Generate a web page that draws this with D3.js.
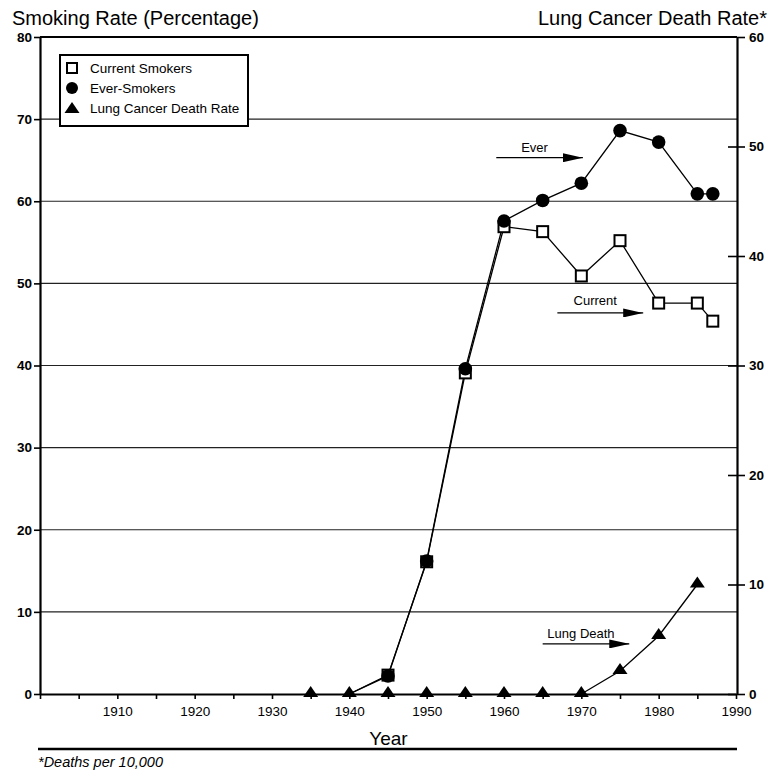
<!DOCTYPE html>
<html lang="en">
<head>
<meta charset="UTF-8">
<title>Smoking Rate and Lung Cancer Death Rate</title>
<style>
    body { margin: 0; padding: 0; background: #fff; }
    svg { display: block; font-family: "Liberation Sans", Arial, Helvetica, sans-serif; }
    .axis text { font-size: 13.5px; fill: #000; }
    .axis path, .axis line { stroke: #000; }
</style>
</head>
<body>
<svg id="chart" width="771" height="773"></svg>

<script src="https://d3js.org/d3.v7.min.js"></script>
<script>
// Data
const smokeYears = [1940, 1945, 1950, 1955, 1960, 1965, 1970, 1975, 1980, 1985, 1987];
const currentSmokers = [0, 2.3, 16.1, 39.1, 56.9, 56.3, 50.9, 55.2, 47.6, 47.6, 45.4];
const everSmokers = [0, 2.2, 16.2, 39.6, 57.6, 60.1, 62.2, 68.6, 67.2, 60.9, 60.9];

const deathYears = [1935, 1940, 1945, 1950, 1955, 1960, 1965, 1970, 1975, 1980, 1985];
const deathRate = [0, 0, 0, 0, 0, 0, 0, 0, 2.1, 5.3, 10.0];

const leftTicks = [0, 10, 20, 30, 40, 50, 60, 70, 80];
const rightTicks = [0, 10, 20, 30, 40, 50, 60];
const yearTicks = d3.range(1900, 1991, 5);
const yearLabels = [1910, 1920, 1930, 1940, 1950, 1960, 1970, 1980, 1990];

const legendLabels = ["Current Smokers", "Ever-Smokers", "Lung Cancer Death Rate"];

const svg = d3.select("#chart");

const x = d3.scaleLinear().domain([1900, 1990]).range([40, 736]);
const y = d3.scaleLinear().domain([0, 80]).range([694, 37]);
const y2 = d3.scaleLinear().domain([0, 60]).range([694, 37]);
const rightX = 737;

const current = smokeYears.map((yr, i) => ({ year: yr, v: currentSmokers[i] }));
const ever = smokeYears.map((yr, i) => ({ year: yr, v: everSmokers[i] }));
const deaths = deathYears.map((yr, i) => ({ year: yr, v: deathRate[i] }));

// gridlines
svg.append("g")
    .selectAll("line")
    .data(leftTicks.filter(d => d > 0 && d < 80))
    .enter().append("line")
    .attr("x1", x(1900)).attr("x2", rightX)
    .attr("y1", d => y(d)).attr("y2", d => y(d))
    .attr("stroke", "#222").attr("stroke-width", 1.1);

// top frame line
svg.append("line")
    .attr("x1", x(1900)).attr("x2", rightX)
    .attr("y1", y(80)).attr("y2", y(80))
    .attr("stroke", "#000").attr("stroke-width", 2);

// left axis
const gl = svg.append("g").attr("class", "axis")
    .attr("transform", `translate(${x(1900)},0)`)
    .call(d3.axisLeft(y).tickValues(leftTicks).tickSize(6).tickSizeOuter(0).tickPadding(2));
gl.select(".domain").attr("stroke-width", 2.2);
gl.selectAll(".tick line").attr("stroke-width", 1.6);
gl.selectAll("text").attr("font-weight", "bold").style("font-size", "13.5px");

// right axis
const gr = svg.append("g").attr("class", "axis")
    .attr("transform", `translate(${rightX},0)`)
    .call(d3.axisRight(y2).tickValues(rightTicks).tickSize(8).tickSizeOuter(0).tickPadding(4));
gr.select(".domain").attr("stroke-width", 2.2);
gr.selectAll(".tick line").attr("x1", d => d === 60 ? 0 : -9).attr("stroke-width", 1.6);
gr.selectAll("text").attr("font-weight", "bold").style("font-size", "13.5px");

// bottom axis
const gb = svg.append("g").attr("class", "axis")
    .attr("transform", `translate(0,${y(0)})`)
    .call(d3.axisBottom(x).tickValues(yearTicks).tickSize(5).tickSizeOuter(0).tickPadding(7)
        .tickFormat(d => yearLabels.includes(d) ? d : ""));
gb.select(".domain").attr("stroke-width", 2.2);
gb.selectAll(".tick line").attr("stroke-width", 1.6);
gb.selectAll("text").style("font-size", "13.5px");

// series lines
const line = d3.line().x(d => x(d.year)).y(d => y(d.v));
const line2 = d3.line().x(d => x(d.year)).y(d => y2(d.v));

svg.append("path").datum(current).attr("d", line)
    .attr("fill", "none").attr("stroke", "#000").attr("stroke-width", 1.3);
svg.append("path").datum(ever).attr("d", line)
    .attr("fill", "none").attr("stroke", "#000").attr("stroke-width", 1.3);
svg.append("path").datum(deaths.filter(d => d.year >= 1970)).attr("d", line2)
    .attr("fill", "none").attr("stroke", "#000").attr("stroke-width", 1.3);

// markers
const tri = "M0,-8L7.5,3L-7.5,3Z";

svg.append("g").selectAll("rect")
    .data(current.filter(d => d.v > 0))
    .enter().append("rect")
    .attr("x", d => x(d.year) - 5.5).attr("y", d => y(d.v) - 5.5)
    .attr("width", 11).attr("height", 11)
    .attr("fill", "#fff").attr("stroke", "#000").attr("stroke-width", 2);

svg.append("g").selectAll("circle")
    .data(ever.filter(d => d.v > 0))
    .enter().append("circle")
    .attr("cx", d => x(d.year)).attr("cy", d => y(d.v))
    .attr("r", 6.8).attr("fill", "#000");

svg.append("g").selectAll("path")
    .data(deaths)
    .enter().append("path")
    .attr("d", tri)
    .attr("transform", d => `translate(${x(d.year)},${y2(d.v)})`)
    .attr("fill", "#000");

// arrow annotations
svg.append("defs").append("marker")
    .attr("id", "arrow").attr("viewBox", "0 0 20 9")
    .attr("refX", 20).attr("refY", 4.5)
    .attr("markerWidth", 20).attr("markerHeight", 9)
    .attr("markerUnits", "userSpaceOnUse")
    .attr("orient", "auto")
    .append("path").attr("d", "M0,0L20,4.5L0,9Z").attr("fill", "#000");

const notes = [
    { text: "Ever", x1: 1959, x2: 1970.2, v: 65.3, tv: 66.0 },
    { text: "Current", x1: 1966.9, x2: 1978.0, v: 46.4, tv: 47.4 },
    { text: "Lung Death", x1: 1965.0, x2: 1976.2, v: 6.1, tv: 6.8 }
];
notes.forEach(n => {
    svg.append("line")
        .attr("x1", x(n.x1)).attr("x2", x(n.x2))
        .attr("y1", y(n.v)).attr("y2", y(n.v))
        .attr("stroke", "#000").attr("stroke-width", 1.3)
        .attr("marker-end", "url(#arrow)");
    svg.append("text")
        .attr("x", (x(n.x1) + x(n.x2)) / 2 - 5).attr("y", y(n.tv))
        .attr("text-anchor", "middle")
        .style("font-size", "13px")
        .text(n.text);
});

// legend
const legend = svg.append("g").attr("transform", "translate(60,55)");
legend.append("rect")
    .attr("width", 188).attr("height", 71)
    .attr("fill", "#fff").attr("stroke", "#000").attr("stroke-width", 2);
legendLabels.forEach((lbl, i) => {
    const cy = 13 + i * 20;
    if (i === 0) {
        legend.append("rect").attr("x", 7).attr("y", cy - 5)
            .attr("width", 10).attr("height", 10)
            .attr("fill", "#fff").attr("stroke", "#000").attr("stroke-width", 2);
    } else if (i === 1) {
        legend.append("circle").attr("cx", 12).attr("cy", cy).attr("r", 6).attr("fill", "#000");
    } else {
        legend.append("path").attr("d", tri).attr("transform", `translate(12,${cy + 2})`).attr("fill", "#000");
    }
    legend.append("text").attr("x", 30).attr("y", cy + 4.5)
        .style("font-size", "13.5px").text(lbl);
});

// titles
svg.append("text").attr("x", 12).attr("y", 25)
    .style("font-size", "20px").text("Smoking Rate (Percentage)");
svg.append("text").attr("x", 767).attr("y", 25).attr("text-anchor", "end")
    .style("font-size", "20px").text("Lung Cancer Death Rate*");
svg.append("text").attr("x", (x(1900) + rightX) / 2).attr("y", 745).attr("text-anchor", "middle")
    .style("font-size", "19px").text("Year");

// footnote
svg.append("line").attr("x1", 38).attr("x2", rightX).attr("y1", 749).attr("y2", 749)
    .attr("stroke", "#000").attr("stroke-width", 2.5);
svg.append("text").attr("x", 38).attr("y", 767)
    .style("font-size", "14.5px").style("font-style", "italic")
    .text("*Deaths per 10,000");
</script>
</body>
</html>
